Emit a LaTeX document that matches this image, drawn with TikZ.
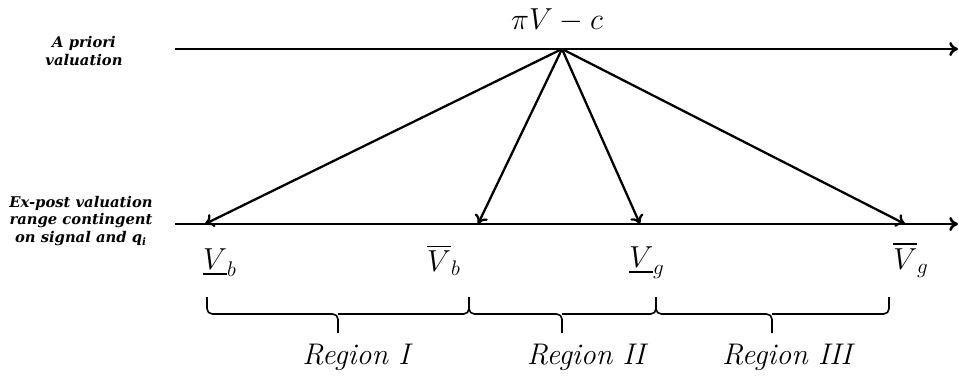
\documentclass[tikz,border=0pt]{standalone}
\usepackage{amsmath}
\usepackage{fontspec}
\newfontfamily\sidefont{DejaVu Serif}
\usetikzlibrary{arrows.meta}

\tikzset{
  axis/.style={line width=1.5pt,-{To[length=5pt,width=8pt]}},
  valarrow/.style={line width=1.3pt,-{To[length=5pt,width=8pt]}},
  bracepart/.style={line width=0.9pt,rounded corners=3pt},
  sidelabel/.style={font=\sidefont\fontsize{8.4}{9.7}\selectfont\bfseries\itshape,align=center},
  vallabel/.style={font=\fontsize{17}{20}\selectfont},
  reglabel/.style={font=\fontsize{17}{20}\selectfont\itshape}
}

% curly brace below the line, from #1 to #3 with tip at #2
\newcommand{\regbrace}[3]{%
  \draw[bracepart] (#1,297) -- (#1,314) -- (#2,314) -- (#2,333);
  \draw[bracepart] (#2,314) -- (#3,314) -- (#3,297);
}

\begin{document}
\begin{tikzpicture}[x=0.02cm,y=-0.02cm]
  \useasboundingbox (0,0) rectangle (959,382);

  % the two valuation lines
  \coordinate (topL) at (175,49);
  \coordinate (topR) at (958,49);
  \coordinate (botL) at (175,224);
  \coordinate (botR) at (958,224);
  \draw[axis] (topL) -- (topR);
  \draw[axis] (botL) -- (botR);

  \coordinate (apex) at (562,49);
  \coordinate (vblow) at (205,224);
  \coordinate (vbhigh) at (478,224);
  \coordinate (vglow) at (640,224);
  \coordinate (vghigh) at (905,224);

  \node[sidelabel] (prior) at (84,51) {A priori\\valuation};
  \node[sidelabel] (expost) at (81,221) {Ex-post valuation\\range contingent\\on signal and q\textsubscript{i}};
  \node[vallabel] (mean) at (557,20) {$\pi V - c$};

  \draw[valarrow] (apex) -- (vblow);
  \draw[valarrow] (apex) -- (vbhigh);
  \draw[valarrow] (apex) -- (vglow);
  \draw[valarrow] (apex) -- (vghigh);

  \node[vallabel] (lvb) at (220,263) {$\underline{V}_b$};
  \node[vallabel] (hvb) at (444,260) {$\overline{V}_b$};
  \node[vallabel] (lvg) at (647,263) {$\underline{V}_g$};
  \node[vallabel] (hvg) at (911,260) {$\overline{V}_g$};

  \regbrace{207}{338}{469}
  \regbrace{469}{562}{656}
  \regbrace{656}{772}{889}

  \node[reglabel] (reg1) at (356,357) {Region I};
  \node[reglabel] (reg2) at (586,357) {Region II};
  \node[reglabel] (reg3) at (787,357) {Region III};
\end{tikzpicture}
\end{document}
